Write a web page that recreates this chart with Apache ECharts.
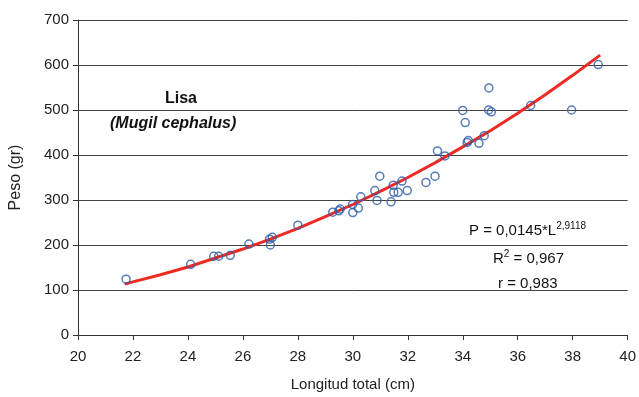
<!DOCTYPE html>
<html>
<head>
<meta charset="utf-8">
<script src="https://cdn.jsdelivr.net/npm/echarts@6/dist/echarts.min.js"></script>
<style>html,body{margin:0;padding:0;background:#fff}#c{width:639px;height:397px}</style>
</head>
<body>
<div id="c"></div>
<script>
// Observed data: longitud total (cm), peso (gr)
const lengths = [21.75, 24.1, 24.94, 25.12, 25.54, 26.22, 26.97, 27.0, 27.07, 28.0,
  29.27, 29.49, 29.54, 29.99, 30.0, 30.2, 30.29, 30.8, 30.88, 30.98,
  31.39, 31.47, 31.49, 31.65, 31.79, 31.98, 32.66, 32.99, 33.08, 33.35,
  34.0, 34.09, 34.16, 34.2, 34.59, 34.78, 34.95, 34.94, 35.04, 36.47, 37.96, 38.93];
const weights = [124, 157, 175, 175, 177, 202, 213, 200, 217, 244,
  273, 276, 280, 290, 272, 282, 307, 321, 299, 353,
  296, 333, 317, 317, 342, 321, 339, 353, 409, 398,
  499, 472, 428, 432, 426, 443, 549, 500, 496, 510, 500, 601];
// Red fitted curve
const curveL = [21.7, 22, 23, 24, 25, 26, 27, 28, 29, 30, 31, 32, 33, 34, 35, 36, 37, 38, 39];
const curveP = [113, 118, 134, 151, 171, 191, 213, 237, 263, 290, 319, 350, 383, 418, 454, 493, 534, 577, 622];
const xTicks = [20, 22, 24, 26, 28, 30, 32, 34, 36, 38, 40];
const yTicks = [0, 100, 200, 300, 400, 500, 600, 700];

const font = 'Liberation Sans, Arial, sans-serif';
const chart = echarts.init(document.getElementById('c'));
chart.setOption({
  animation: false,
  grid: {left: 76, right: 7, top: 20, bottom: 62},
  xAxis: {
    type: 'value', min: xTicks[0], max: xTicks[xTicks.length - 1], interval: 2,
    name: 'Longitud total (cm)', nameLocation: 'middle', nameGap: 42,
    nameTextStyle: {fontFamily: font, fontSize: 15, color: '#222'},
    axisLine: {show: true, lineStyle: {color: '#333', width: 1}},
    axisTick: {show: true, length: 5, lineStyle: {color: '#333'}},
    axisLabel: {fontFamily: font, fontSize: 15, color: '#222', margin: 14},
    splitLine: {show: false}
  },
  yAxis: {
    type: 'value', min: yTicks[0], max: yTicks[yTicks.length - 1], interval: 100,
    name: 'Peso (gr)', nameLocation: 'middle', nameGap: 54,
    nameTextStyle: {fontFamily: font, fontSize: 16, color: '#222'},
    axisLine: {show: true, lineStyle: {color: '#333', width: 1}},
    axisTick: {show: true, length: 5, lineStyle: {color: '#333'}},
    axisLabel: {fontFamily: font, fontSize: 15, color: '#222', margin: 9},
    splitLine: {show: true, lineStyle: {color: '#444', width: 1}}
  },
  series: [
    {
      type: 'line', data: curveL.map((l, i) => [l, curveP[i]]),
      showSymbol: false, smooth: false,
      lineStyle: {color: '#ee2a24', width: 3}, z: 2
    },
    {
      type: 'scatter', data: lengths.map((l, i) => [l, weights[i]]),
      symbol: 'circle', symbolSize: 8,
      itemStyle: {color: 'rgba(255,255,255,0)', borderColor: '#2c5ba8', borderWidth: 1.5}, z: 3
    }
  ],
  graphic: [
    {type: 'text', left: 165, top: 91, style: {text: 'Lisa', font: 'bold 16px ' + font, fill: '#111'}},
    {type: 'text', left: 110, top: 116, style: {text: '(Mugil cephalus)', font: 'italic bold 16px ' + font, fill: '#111'}},
    {type: 'text', left: 469, top: 221, style: {
      rich: {
        a: {font: '15px ' + font, fill: '#111'},
        s: {font: '10px ' + font, fill: '#111', verticalAlign: 'top', padding: [0,0,10,0]}
      },
      text: '{a|P = 0,0145*L}{s|2,9118}', fill: '#111'}},
    {type: 'text', left: 493, top: 249, style: {
      rich: {
        a: {font: '15px ' + font, fill: '#111'},
        s: {font: '10px ' + font, fill: '#111', padding: [0,0,10,0]}
      },
      text: '{a|R}{s|2}{a| = 0,967}'}},
    {type: 'text', left: 498, top: 276, style: {text: 'r = 0,983', font: '15px ' + font, fill: '#111'}}
  ]
});
</script>
</body>
</html>
